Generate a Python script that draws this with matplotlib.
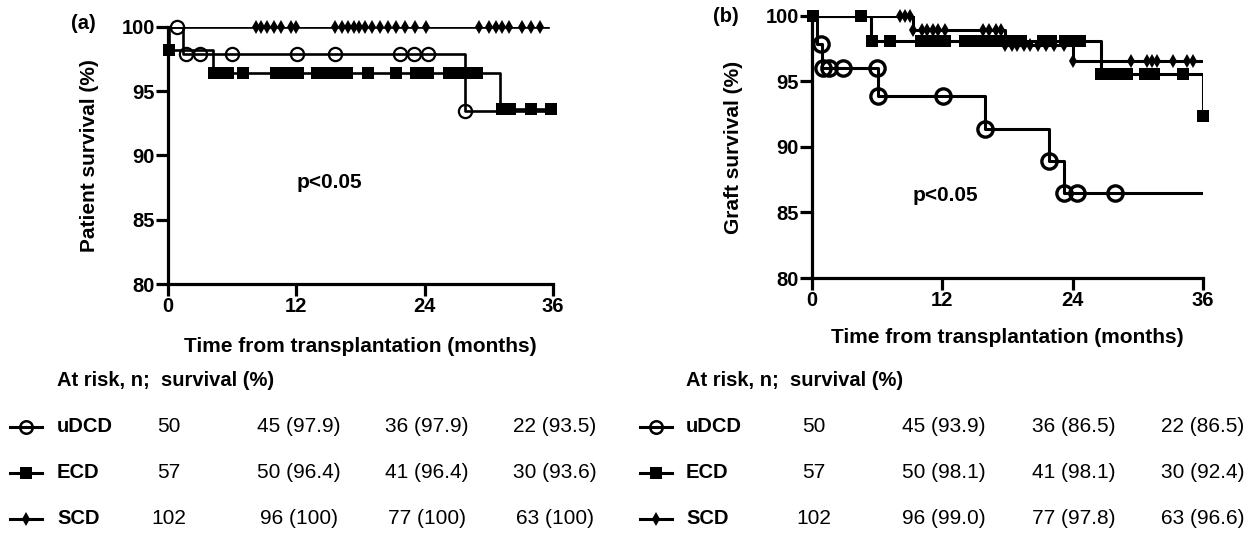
import numpy as np
import matplotlib
matplotlib.use("Agg")
import matplotlib.pyplot as plt
from matplotlib.lines import Line2D

plt.rcParams["font.family"] = ["Liberation Sans", "DejaVu Sans"]

W, H = 1256, 549

# ─── DONNÉES : panel (a) survie patient ──────────────────────────────────────
a_udcd_t = [0, 1.4, 27.8, 36]
a_udcd_s = [100, 97.9, 93.5, 93.5]
a_udcd_m = [0.8, 1.7, 3.0, 6.0, 12.1, 15.6, 21.7, 23.0, 24.3, 27.8]

a_ecd_t = [0, 0.1, 4.25, 31.0, 36]
a_ecd_s = [100, 98.2, 96.4, 93.6, 93.6]
a_ecd_m = [0.1, 4.3, 4.9, 5.6, 7.0, 10.1, 10.8, 11.5, 12.2, 13.9, 14.6, 15.3,
           16.0, 16.7, 18.7, 21.3, 23.2, 24.3, 26.3, 27.2, 27.9, 28.9,
           31.2, 32.0, 33.9, 35.8]

a_scd_t = [0, 35.5]
a_scd_s = [100, 100]
a_scd_m = [8.2, 8.7, 9.25, 9.9, 10.6, 11.5, 12.0,
           15.6, 16.3, 16.8, 17.4, 17.9, 18.4, 19.1, 19.8, 20.6, 21.3, 22.2, 23.1, 24.1,
           29.1, 30.0, 30.7, 31.2, 31.9, 33.1, 33.9, 34.8]

# ─── DONNÉES : panel (b) survie greffon ──────────────────────────────────────
b_udcd_t = [0, 0.5, 0.9, 6.1, 15.9, 21.8, 23.2, 36]
b_udcd_s = [100, 97.9, 96.0, 93.9, 91.4, 88.9, 86.5, 86.5]
b_udcd_m = [0.8, 1.0, 1.6, 2.9, 6.0, 6.1, 12.1, 15.9, 21.8, 23.2, 24.4, 27.9]

b_ecd_t = [0, 5.4, 26.6, 36]
b_ecd_s = [100, 98.1, 95.6, 92.4]
b_ecd_m = [0.1, 4.5, 5.5, 7.2, 10.0, 10.7, 11.4, 12.2, 14.1, 14.8, 15.5, 16.1,
           16.8, 17.5, 18.6, 19.2, 21.3, 22.0, 23.3, 24.0, 24.7,
           26.6, 27.3, 28.0, 29.0, 30.7, 31.5, 34.2, 36.0]

b_scd_t = [0, 9.3, 17.8, 24.0, 35.9]
b_scd_s = [100, 98.9, 97.8, 96.6, 96.6]
b_scd_m = [8.1, 8.6, 9.0, 9.3, 10.1, 10.6, 11.1, 11.6, 12.2,
           15.7, 16.3, 16.9, 17.4, 17.8, 18.4, 18.9, 19.5, 20.1, 20.8, 21.5, 22.3, 23.2,
           24.0, 29.4, 30.8, 31.3, 31.8, 33.2, 34.5, 35.1]

# ─── TABLEAU "at risk" ───────────────────────────────────────────────────────
groups = ["uDCD", "ECD", "SCD"]
a_risk = [["50", "45 (97.9)", "36 (97.9)", "22 (93.5)"],
          ["57", "50 (96.4)", "41 (96.4)", "30 (93.6)"],
          ["102", "96 (100)", "77 (100)", "63 (100)"]]
b_risk = [["50", "45 (93.9)", "36 (86.5)", "22 (86.5)"],
          ["57", "50 (98.1)", "41 (98.1)", "30 (92.4)"],
          ["102", "96 (99.0)", "77 (97.8)", "63 (96.6)"]]

# style des symboles (a) / (b) / légende
STYLE_A = {
    "uDCD": dict(marker="o", ms=9.5, mfc="none", mew=1.6),
    "ECD":  dict(marker="s", ms=8.5, mfc="black", mew=0),
    "SCD":  dict(marker="d", ms=7.5, mfc="black", mew=0),
}
STYLE_B = {
    "uDCD": dict(marker="o", ms=11, mfc="none", mew=2.4),
    "ECD":  dict(marker="s", ms=8.5, mfc="black", mew=0),
    "SCD":  dict(marker="d", ms=7.5, mfc="black", mew=0),
}
STYLE_LEG = {
    "uDCD": dict(marker="o", ms=9, mfc="none", mew=1.8),
    "ECD":  dict(marker="s", ms=8, mfc="black", mew=0),
    "SCD":  dict(marker="d", ms=7.5, mfc="black", mew=0),
}


def km(ax, t, s, marks, st, lw=1.9):
    t = np.asarray(t)
    s = np.asarray(s)
    ax.step(t, s, where="post", color="black", lw=lw, zorder=3)
    idx = np.searchsorted(t, marks, side="right") - 1
    ax.plot(marks, s[idx], ls="none", color="black", zorder=4,
            clip_on=False, **st)


def style_axes(ax, ylabel, tag, tag_xy, xlpad):
    ax.set_xlim(0, 36)
    ax.set_ylim(80, 100)
    ax.set_xticks([0, 12, 24, 36])
    ax.set_yticks([80, 85, 90, 95, 100])
    for side in ["top", "right"]:
        ax.spines[side].set_visible(False)
    for side in ["left", "bottom"]:
        ax.spines[side].set_linewidth(2.3)
    ax.tick_params(width=2.3, length=8.5, labelsize=14.5, pad=1)
    for lab in ax.get_xticklabels() + ax.get_yticklabels():
        lab.set_fontweight("bold")
    ax.set_xlabel("Time from transplantation (months)", fontsize=15,
                  fontweight="bold", labelpad=xlpad)
    ax.set_ylabel(ylabel, fontsize=15, fontweight="bold", labelpad=16)
    ax.text(tag_xy[0], tag_xy[1], tag, transform=ax.transAxes, fontsize=14.5,
            fontweight="bold", ha="center", va="center")


fig = plt.figure(figsize=(W / 100, H / 100), dpi=100)

ax_a = fig.add_axes([168 / W, 1 - 284 / H, (553 - 168) / W, (284 - 27) / H])
km(ax_a, a_scd_t, a_scd_s, a_scd_m, STYLE_A["SCD"])
km(ax_a, a_udcd_t, a_udcd_s, a_udcd_m, STYLE_A["uDCD"])
km(ax_a, a_ecd_t, a_ecd_s, a_ecd_m, STYLE_A["ECD"])
style_axes(ax_a, "Patient survival (%)", "(a)", (-0.22, 1.015), 15)
ax_a.text(15.1, 87.9, "p<0.05", fontsize=15, fontweight="bold",
          ha="center", va="center")

ax_b = fig.add_axes([812 / W, 1 - 278 / H, (1203 - 812) / W, (278 - 16) / H])
km(ax_b, b_scd_t, b_scd_s, b_scd_m, STYLE_B["SCD"], lw=2.2)
km(ax_b, b_ecd_t, b_ecd_s, b_ecd_m, STYLE_B["ECD"], lw=2.2)
km(ax_b, b_udcd_t, b_udcd_s, b_udcd_m, STYLE_B["uDCD"], lw=2.2)
style_axes(ax_b, "Graft survival (%)", "(b)", (-0.22, 1.0), 13)
ax_b.text(12.3, 86.3, "p<0.05", fontsize=15, fontweight="bold",
          ha="center", va="center")


# ─── TABLEAUX SOUS LES COURBES ───────────────────────────────────────────────
def fx(x):
    return x / W


def fy(y):
    return 1 - y / H


def risk_table(x_sym, x_lab, col_x, rows):
    fig.text(fx(x_lab), fy(381), "At risk, n;  survival (%)", fontsize=14.5,
             fontweight="bold", ha="left", va="center")
    for i, g in enumerate(groups):
        y = 427 + 46 * i
        fig.add_artist(Line2D([fx(x_sym[0]), fx(x_sym[1])], [fy(y), fy(y)],
                              transform=fig.transFigure, color="black", lw=2.2))
        fig.add_artist(Line2D([fx((x_sym[0] + x_sym[1]) / 2)], [fy(y)],
                              transform=fig.transFigure, color="black",
                              ls="none", **STYLE_LEG[g]))
        fig.text(fx(x_lab), fy(y), g, fontsize=14.5, fontweight="bold",
                 ha="left", va="center")
        for cx, val in zip(col_x, rows[i]):
            fig.text(fx(cx), fy(y), val, fontsize=15, ha="center", va="center")


risk_table((10, 42), 57, [169, 299, 427, 555], a_risk)
risk_table((640, 672), 686, [814, 944, 1074, 1203], b_risk)

fig.savefig("out.png", dpi=100)
